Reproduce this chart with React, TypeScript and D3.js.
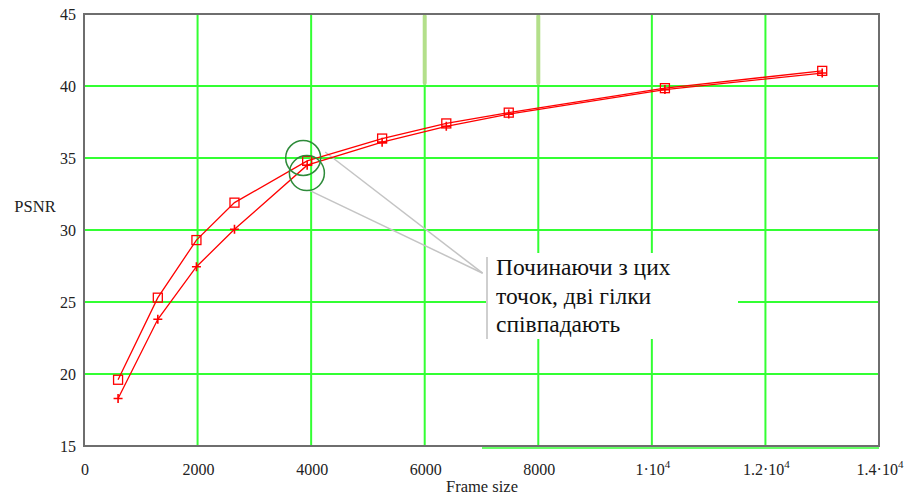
import React from "react";
import * as d3 from "d3";

// Frame size (x) shared by both branches
const frameSize = [600, 1300, 1980, 2650, 3930, 5250, 6380, 7480, 10230, 13000];
// Branch marked with squares
const psnrSquares = [19.6, 25.3, 29.3, 31.9, 34.8, 36.35, 37.4, 38.15, 39.85, 41.05];
// Branch marked with crosses
const psnrCrosses = [18.3, 23.8, 27.45, 30.05, 34.5, 36.1, 37.2, 38.05, 39.75, 40.9];

const xTicks = [0, 2000, 4000, 6000, 8000, 10000, 12000, 14000];
const yTicks = [15, 20, 25, 30, 35, 40, 45];
const noteLines = ["Починаючи з цих", "точок, дві гілки", "співпадають"];

const W = 907;
const H = 495;
const FONT = "'Liberation Serif', 'DejaVu Serif', serif";

function xLabel(v: number) {
  if (v < 10000) return <tspan>{String(v)}</tspan>;
  const m = v / 10000;
  return (
    <>
      <tspan>{`${m}·10`}</tspan>
      <tspan dy={-7} fontSize={11}>4</tspan>
    </>
  );
}

export default function App() {
  const x = d3.scaleLinear().domain([0, 14000]).range([84, 879]);
  const y = d3.scaleLinear().domain([15, 45]).range([446, 14]);

  const line = d3
    .line<[number, number]>()
    .x((d) => x(d[0]))
    .y((d) => y(d[1]));

  const sq = frameSize.map((f, i) => [f, psnrSquares[i]] as [number, number]);
  const cr = frameSize.map((f, i) => [f, psnrCrosses[i]] as [number, number]);

  // highlighted meeting points
  const c1 = { cx: x(3860), cy: y(35.0) };
  const c2 = { cx: x(3925), cy: y(33.95) };
  const r = 17.5;
  const tip = { x: x(7020), y: y(27.0) };

  const [x0, x1] = x.range();
  const [yb, yt] = y.range();

  return (
    <svg
      width={W}
      height={H}
      style={{ position: "absolute", left: 0, top: 0, background: "#fff" }}
      fontFamily={FONT}
    >
      <rect x={0} y={0} width={W} height={H} fill="#fff" />

      {/* grid */}
      {xTicks.slice(1, -1).map((t) => (
        <line key={"gx" + t} x1={x(t)} x2={x(t)} y1={yt} y2={yb} stroke="#3f3" strokeWidth={2} />
      ))}
      {yTicks.slice(1, -1).map((t) => (
        <line key={"gy" + t} x1={x0} x2={x1} y1={y(t)} y2={y(t)} stroke="#3f3" strokeWidth={2} />
      ))}
      {[6000, 8000].map((t) => (
        <line
          key={"hl" + t}
          x1={x(t)}
          x2={x(t)}
          y1={yt + 2}
          y2={y(40) - 3}
          stroke="#b3df8a"
          strokeWidth={4}
          strokeLinecap="round"
        />
      ))}
      <line x1={482} x2={x1} y1={yb + 2} y2={yb + 2} stroke="#3f3" strokeWidth={1.5} />

      {/* frame */}
      <rect x={x0} y={yt} width={x1 - x0} height={yb - yt} fill="none" stroke="#6e6e6e" strokeWidth={2} />

      {/* note box */}
      <rect x={487} y={253} width={251} height={86} fill="#fff" />
      <line x1={487} x2={487} y1={257} y2={339} stroke="#cfcfcf" strokeWidth={2} />
      {noteLines.map((s, i) => (
        <text key={s} x={496} y={275 + i * 28.5} fontSize={23.5} fill="#111">
          {s}
        </text>
      ))}

      {/* callout leaders */}
      <line x1={c1.cx + 22} x2={tip.x} y1={c1.cy - 6} y2={tip.y} stroke="#c4c4c4" strokeWidth={1.5} />
      <line x1={c2.cx + 3} x2={tip.x} y1={c2.cy + r} y2={tip.y} stroke="#c4c4c4" strokeWidth={1.5} />

      {/* series */}
      <path d={line(sq) ?? ""} fill="none" stroke="#f00" strokeWidth={1.3} />
      <path d={line(cr) ?? ""} fill="none" stroke="#f00" strokeWidth={1.3} />
      {sq.map((d, i) => (
        <rect
          key={"s" + i}
          x={x(d[0]) - 4.5}
          y={y(d[1]) - 4.5}
          width={9}
          height={9}
          fill="none"
          stroke="#f00"
          strokeWidth={1.3}
        />
      ))}
      {cr.map((d, i) => (
        <path
          key={"c" + i}
          d={`M${x(d[0]) - 4.5},${y(d[1])}h9M${x(d[0])},${y(d[1]) - 4.5}v9`}
          stroke="#f00"
          strokeWidth={1.6}
        />
      ))}

      {/* circles */}
      <circle cx={c1.cx} cy={c1.cy} r={r} fill="none" stroke="#2e8b3a" strokeWidth={1.5} />
      <circle cx={c2.cx} cy={c2.cy} r={r} fill="none" stroke="#2e8b3a" strokeWidth={1.5} />

      {/* axes labels */}
      {yTicks.map((t) => (
        <text key={"yl" + t} x={76} y={y(t) + 5.5} fontSize={16} textAnchor="end" fill="#222">
          {t}
        </text>
      ))}
      {xTicks.map((t) => (
        <text key={"xl" + t} x={x(t) + 1} y={475} fontSize={16} textAnchor="middle" fill="#222">
          {xLabel(t)}
        </text>
      ))}
      <text x={35} y={212} fontSize={16.5} textAnchor="middle" fill="#222">
        PSNR
      </text>
      <text x={482} y={492} fontSize={16.5} textAnchor="middle" fill="#222">
        Frame size
      </text>
    </svg>
  );
}
